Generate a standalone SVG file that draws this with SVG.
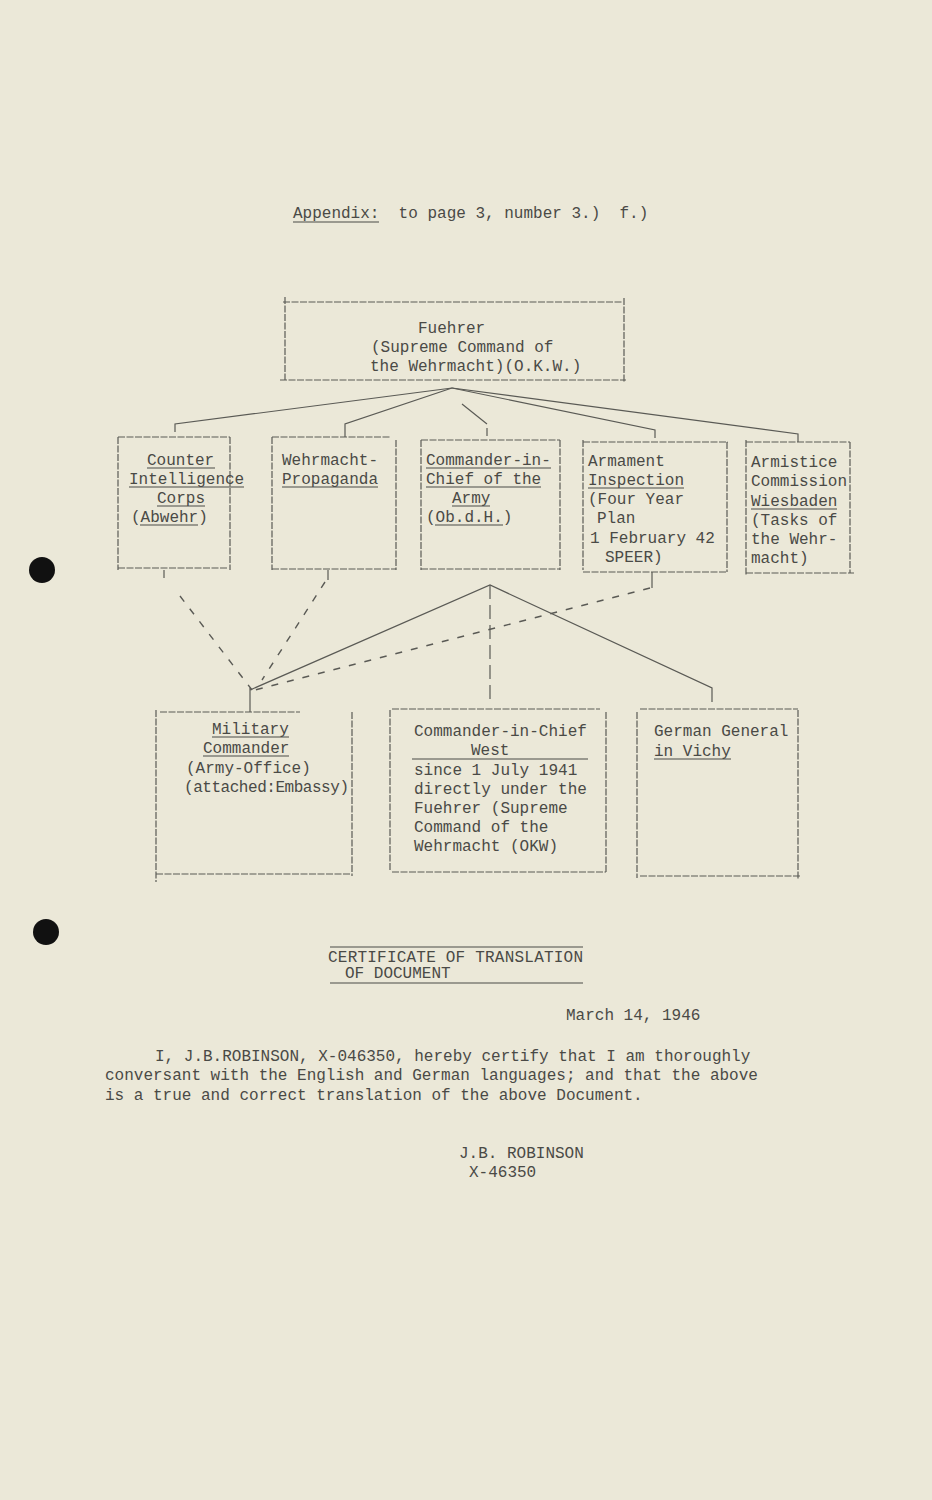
<svg xmlns="http://www.w3.org/2000/svg" width="932" height="1500" viewBox="0 0 932 1500">
<style>
text{font-family:"Liberation Mono","Courier New",monospace;font-size:16px;fill:#4a4a46;white-space:pre}
.b{fill:none;stroke:#5a5a55;stroke-width:1.2;stroke-dasharray:7 1.5}
.c{fill:none;stroke:#5a5a55;stroke-width:1.2}
.d{fill:none;stroke:#5a5a55;stroke-width:1.4;stroke-dasharray:7 9}
.u{stroke:#4a4a46;stroke-width:1.2}
</style>
<rect width="932" height="1500" fill="#ebe8d8"/>
<circle cx="42" cy="570" r="13" fill="#111"/>
<circle cx="46" cy="932" r="13" fill="#111"/>

<g id="title">
<text x="293" y="218" xml:space="preserve">Appendix:  to page 3, number 3.)  f.)</text>
<line class="u" x1="293" y1="222" x2="379" y2="222"/>
</g>

<g id="connectors">
<path class="c" d="M452 388 L175 424 L175 432"/>
<path class="c" d="M452 388 L345 424 L345 437"/>
<path class="c" d="M462 404 L487 424 M487 428 L487 436"/>
<path class="c" d="M452 388 L655 430 L655 438"/>
<path class="c" d="M452 388 L798 434 L798 442"/>
<path class="c" d="M164 570 L164 578"/>
<path class="c" d="M328 570 L328 580"/>
<path class="c" d="M652 572 L652 588"/>
<path class="d" d="M180 596 L252 690"/>
<path class="d" d="M325 582 L262 680"/>
<path class="d" d="M650 588 L255 690"/>
<path class="c" d="M250 690 L490 585 L712 688 L712 702"/>
<path class="c" d="M490 585 L490 702" stroke-dasharray="14 6"/>
<path class="c" d="M250 688 L250 712"/>
</g>

<g id="fuehrer">
<path class="b" d="M285 297 V380 M283 302 H623 M624 298 V382 M280 380 H626"/>
<text x="418" y="333">Fuehrer</text>
<text x="371" y="352">(Supreme Command of</text>
<text x="370" y="371">the Wehrmacht)(O.K.W.)</text>
</g>

<g id="counter-intelligence">
<path class="b" d="M118 437 V570 M118 437 H230 M230 437 V570 M118 568 H228"/>
<text x="147" y="465">Counter</text>
<text x="129" y="484">Intelligence</text>
<text x="157" y="503">Corps</text>
<text x="131" y="522">(Abwehr)</text>
<line class="u" x1="147" y1="468" x2="215" y2="468"/>
<line class="u" x1="129" y1="487" x2="244" y2="487"/>
<line class="u" x1="157" y1="506" x2="205" y2="506"/>
<line class="u" x1="140" y1="525" x2="198" y2="525"/>
</g>

<g id="propaganda">
<path class="b" d="M272 437 V570 M272 437 H390 M396 440 V570 M272 569 H396"/>
<text x="282" y="465">Wehrmacht-</text>
<text x="282" y="484">Propaganda</text>
<line class="u" x1="282" y1="487" x2="378" y2="487"/>
</g>

<g id="cinc-army">
<path class="b" d="M421 440 V570 M421 440 H560 M560 440 V570 M421 569 H560"/>
<text x="426" y="465">Commander-in-</text>
<text x="426" y="484">Chief of the</text>
<text x="452" y="503">Army</text>
<text x="426" y="522">(Ob.d.H.)</text>
<line class="u" x1="426" y1="468" x2="551" y2="468"/>
<line class="u" x1="426" y1="487" x2="541" y2="487"/>
<line class="u" x1="452" y1="506" x2="490" y2="506"/>
<line class="u" x1="435" y1="525" x2="503" y2="525"/>
</g>

<g id="armament">
<path class="b" d="M583 440 V570 M583 442 H728 M727 442 V572 M583 572 H727"/>
<text x="588" y="466">Armament</text>
<text x="588" y="485">Inspection</text>
<text x="588" y="504">(Four Year</text>
<text x="597" y="523">Plan</text>
<text x="590" y="543">1 February 42</text>
<text x="605" y="562">SPEER)</text>
<line class="u" x1="588" y1="488" x2="684" y2="488"/>
</g>

<g id="armistice">
<path class="b" d="M746 440 V575 M746 442 H850 M850 442 V573 M746 573 H854"/>
<text x="751" y="467">Armistice</text>
<text x="751" y="486">Commission</text>
<text x="751" y="506">Wiesbaden</text>
<text x="751" y="525">(Tasks of</text>
<text x="751" y="544">the Wehr-</text>
<text x="751" y="563">macht)</text>
<line class="u" x1="751" y1="509" x2="837" y2="509"/>
</g>

<g id="military-commander">
<path class="b" d="M156 710 V882 M160 712 H300 M352 712 V876 M156 874 H350"/>
<text x="212" y="734">Military</text>
<text x="203" y="753">Commander</text>
<text x="186" y="773">(Army-Office)</text>
<text x="184" y="792" textLength="165" lengthAdjust="spacing">(attached:Embassy)</text>
<line class="u" x1="212" y1="737" x2="289" y2="737"/>
<line class="u" x1="203" y1="756" x2="289" y2="756"/>
</g>

<g id="cinc-west">
<path class="b" d="M390 710 V870 M392 709 H600 M606 712 V873 M392 872 H606"/>
<text x="414" y="736">Commander-in-Chief</text>
<text x="471" y="755">West</text>
<line class="u" x1="412" y1="759" x2="588" y2="759"/>
<text x="414" y="775">since 1 July 1941</text>
<text x="414" y="794">directly under the</text>
<text x="414" y="813">Fuehrer (Supreme</text>
<text x="414" y="832">Command of the</text>
<text x="414" y="851">Wehrmacht (OKW)</text>
</g>

<g id="german-general">
<path class="b" d="M637 712 V878 M640 709 H798 M798 710 V880 M640 876 H800"/>
<text x="654" y="736">German General</text>
<text x="654" y="756">in Vichy</text>
<line class="u" x1="654" y1="759" x2="731" y2="759"/>
</g>

<g id="certificate">
<line class="u" x1="330" y1="947" x2="583" y2="947"/>
<text x="328" y="962" textLength="255" lengthAdjust="spacing">CERTIFICATE OF TRANSLATION</text>
<text x="345" y="978">OF DOCUMENT</text>
<line class="u" x1="330" y1="983" x2="583" y2="983"/>
<text x="566" y="1020">March 14, 1946</text>
<text x="155" y="1061">I, J.B.ROBINSON, X-046350, hereby certify that I am thoroughly</text>
<text x="105" y="1080">conversant with the English and German languages; and that the above</text>
<text x="105" y="1100">is a true and correct translation of the above Document.</text>
<text x="459" y="1158">J.B. ROBINSON</text>
<text x="469" y="1177">X-46350</text>
</g>
</svg>
